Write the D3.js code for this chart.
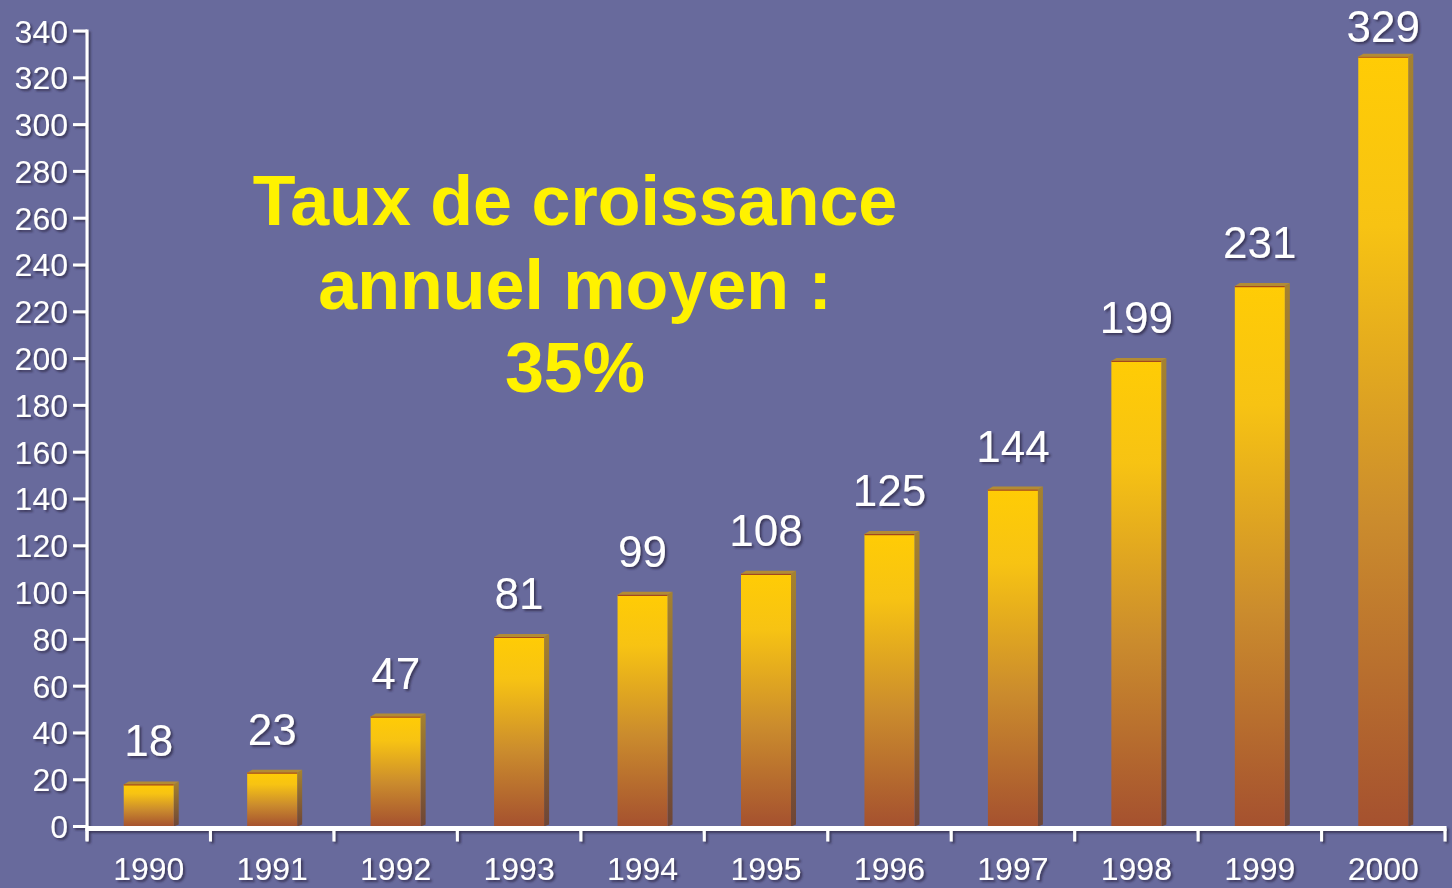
<!DOCTYPE html>
<html>
<head>
<meta charset="utf-8">
<script src="https://cdn.jsdelivr.net/npm/d3@7"></script>
<style>
  html, body { margin: 0; padding: 0; background: #686A9C; }
  svg { display: block; }
  text { font-family: "Liberation Sans", Arial, Helvetica, sans-serif; }
</style>
</head>
<body>
<div id="chart"></div>
<script>
// data
const years = ["1990", "1991", "1992", "1993", "1994", "1995", "1996", "1997", "1998", "1999", "2000"];
const values = [18, 23, 47, 81, 99, 108, 125, 144, 199, 231, 329];
const yTicks = [0, 20, 40, 60, 80, 100, 120, 140, 160, 180, 200, 220, 240, 260, 280, 300, 320, 340];
const titleLines = ["Taux de croissance", "annuel moyen :", "35%"];

var width = 1452, height = 888;
var margin = { top: 31, right: 7, bottom: 61, left: 87 };

var svg = d3.select("#chart")
    .append("svg")
    .attr("width", width)
    .attr("height", height);

svg.append("rect")
    .attr("width", width)
    .attr("height", height)
    .attr("fill", "#686A9C");

var defs = svg.append("defs");

// soft dark shadow used on white text and axis
var f = defs.append("filter").attr("id", "shadow")
    .attr("x", "-10%").attr("y", "-10%").attr("width", "130%").attr("height", "140%");
f.append("feDropShadow")
    .attr("dx", 2).attr("dy", 2).attr("stdDeviation", 0.8)
    .attr("flood-color", "#2e2c4a").attr("flood-opacity", 0.8);

var grad = defs.append("linearGradient").attr("id", "barGrad")
    .attr("x1", 0).attr("y1", 0).attr("x2", 0).attr("y2", 1);
grad.append("stop").attr("offset", "0%").attr("stop-color", "#FFCC05");
grad.append("stop").attr("offset", "22%").attr("stop-color", "#F7C313");
grad.append("stop").attr("offset", "60%").attr("stop-color", "#CB8C2D");
grad.append("stop").attr("offset", "100%").attr("stop-color", "#A5512F");

var sideGrad = defs.append("linearGradient").attr("id", "sideGrad")
    .attr("x1", 0).attr("y1", 0).attr("x2", 0).attr("y2", 1);
sideGrad.append("stop").attr("offset", "0%").attr("stop-color", "#A5822F");
sideGrad.append("stop").attr("offset", "100%").attr("stop-color", "#6E4536");

var x = d3.scaleBand()
    .domain(years)
    .range([margin.left, width - margin.right])
    .padding(0);

var y = d3.scaleLinear()
    .domain([0, 340])
    .range([height - margin.bottom - 0.5, margin.top]);

// title text
svg.append("g")
    .selectAll("text")
    .data(titleLines)
    .enter()
    .append("text")
    .attr("x", 575)
    .attr("y", function (d, i) { return 225 + i * 83.5; })
    .attr("text-anchor", "middle")
    .attr("font-size", 70)
    .attr("font-weight", "bold")
    .attr("fill", "#FFF200")
    .text(function (d) { return d; });

// bars
var bw = x.bandwidth() * 0.405;
var dx = 5, dy = 3;
var bars = svg.append("g")
    .selectAll("g")
    .data(values)
    .enter()
    .append("g");

function bx(d, i) { return x(years[i]) + x.bandwidth() / 2 - bw / 2; }

// right side face
bars.append("path")
    .attr("fill", "url(#sideGrad)")
    .attr("d", function (d, i) {
        var x0 = bx(d, i) + bw, t = y(d), b = y(0);
        return "M" + x0 + "," + t + "L" + (x0 + dx) + "," + (t - dy) + "L" + (x0 + dx) + "," + (b - 2) + "L" + x0 + "," + b + "Z";
    });
// top face
bars.append("path")
    .attr("fill", "#B38C33")
    .attr("d", function (d, i) {
        var x0 = bx(d, i), t = y(d);
        return "M" + x0 + "," + t + "L" + (x0 + dx) + "," + (t - dy) + "L" + (x0 + bw + dx) + "," + (t - dy) + "L" + (x0 + bw) + "," + t + "Z";
    });
// front face
bars.append("rect")
    .attr("x", bx)
    .attr("y", function (d) { return y(d); })
    .attr("width", bw)
    .attr("height", function (d) { return y(0) - y(d); })
    .attr("fill", "url(#barGrad)");
bars.append("line")
    .attr("x1", bx)
    .attr("x2", function (d, i) { return bx(d, i) + bw; })
    .attr("y1", function (d) { return y(d) + 0.5; })
    .attr("y2", function (d) { return y(d) + 0.5; })
    .attr("stroke", "#A2471E")
    .attr("stroke-width", 1.2);

// value labels
svg.append("g")
    .attr("filter", "url(#shadow)")
    .selectAll("text")
    .data(values)
    .enter()
    .append("text")
    .attr("x", function (d, i) { return x(years[i]) + x.bandwidth() / 2; })
    .attr("y", function (d) { return Math.max(y(d) - 28, 42); })
    .attr("text-anchor", "middle")
    .attr("font-size", 44)
    .attr("fill", "#fff")
    .text(function (d) { return d; });

// axes
var axis = svg.append("g").attr("filter", "url(#shadow)");
var y0 = y(0);

// Y axis line and ticks
axis.append("line")
    .attr("x1", margin.left).attr("x2", margin.left)
    .attr("y1", y(340) - 1.5).attr("y2", y0 + 14)
    .attr("stroke", "#fff").attr("stroke-width", 3);
axis.selectAll(".ytick")
    .data(yTicks)
    .enter()
    .append("line")
    .attr("x1", margin.left - 14).attr("x2", margin.left)
    .attr("y1", function (d) { return y(d); })
    .attr("y2", function (d) { return y(d); })
    .attr("stroke", "#fff").attr("stroke-width", 3);
axis.selectAll(".ylab")
    .data(yTicks)
    .enter()
    .append("text")
    .attr("x", 68)
    .attr("y", function (d) { return y(d); })
    .attr("dy", "0.36em")
    .attr("text-anchor", "end")
    .attr("font-size", 32)
    .attr("fill", "#fff")
    .text(function (d) { return d; });

// X axis line, ticks at category boundaries
axis.append("line")
    .attr("x1", margin.left - 1.5).attr("x2", width - margin.right + 1.5)
    .attr("y1", y0 + 2).attr("y2", y0 + 2)
    .attr("stroke", "#fff").attr("stroke-width", 5);
var bounds = years.map(function (d) { return x(d); }).concat([width - margin.right]);
axis.selectAll(".xtick")
    .data(bounds)
    .enter()
    .append("line")
    .attr("x1", function (d) { return d; })
    .attr("x2", function (d) { return d; })
    .attr("y1", y0 + 2).attr("y2", y0 + 15)
    .attr("stroke", "#fff").attr("stroke-width", 3);
axis.selectAll(".xlab")
    .data(years)
    .enter()
    .append("text")
    .attr("x", function (d) { return x(d) + x.bandwidth() / 2; })
    .attr("y", 880)
    .attr("text-anchor", "middle")
    .attr("font-size", 32)
    .attr("fill", "#fff")
    .text(function (d) { return d; });
</script>
</body>
</html>
